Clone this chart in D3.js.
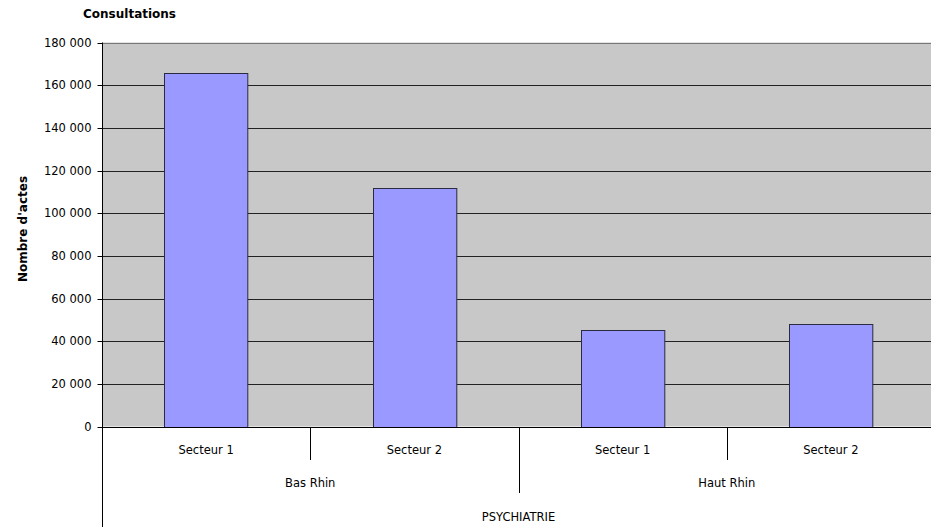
<!DOCTYPE html>
<html><head><meta charset="utf-8">
<script src="https://cdn.jsdelivr.net/npm/d3@7"></script>
<style>
body{margin:0;background:#fff;}
text{font-family:"DejaVu Sans",sans-serif;fill:#000;}
</style></head>
<body><svg id="c" width="931" height="527"></svg>
<script>
const sectors = ["Secteur 1","Secteur 2","Secteur 1","Secteur 2"];
const regions = ["Bas Rhin","Haut Rhin"];
const regionOfBar = [0,0,1,1];
const groupLabel = "PSYCHIATRIE";
const values = [165800, 111700, 45300, 48100];
const yTicks = [0,20000,40000,60000,80000,100000,120000,140000,160000,180000];
const title = "Consultations";
const yTitle = "Nombre d'actes";

const svg = d3.select("#c");
const L = 102, T = 42.5, W = 833, H = 384;
const x = d3.scaleBand().domain(d3.range(values.length)).range([L, L+W]).paddingInner(0.6).paddingOuter(0.3);
const xb = d3.scaleBand().domain(d3.range(values.length)).range([L, L+W]);
const y = d3.scaleLinear().domain([0,180000]).range([T+H, T]);
const fmt = v => d3.format(",")(v).replace(/,/g, " ");
const FS = "11.5px";

svg.append("rect").attr("x",L).attr("y",T).attr("width",W).attr("height",H).attr("fill","#c8c8c8");

// gridlines
svg.append("g").selectAll("line").data(yTicks.filter(d=>d>0)).join("line")
  .attr("x1",L).attr("x2",L+W)
  .attr("y1",d=>Math.round(y(d))+0.5).attr("y2",d=>Math.round(y(d))+0.5)
  .attr("stroke", (d,i)=> d===180000 ? "#777" : "#222").attr("stroke-width",1);

// bars
svg.append("g").selectAll("rect").data(values).join("rect")
  .attr("x",(d,i)=>Math.round(x(i))+0.5)
  .attr("y",d=>Math.round(y(d))+0.5)
  .attr("width",x.bandwidth())
  .attr("height",d=>Math.round(y(0))-Math.round(y(d)))
  .attr("fill","#9999ff").attr("stroke","#2a2a40").attr("stroke-width",1);

// y axis
const yAxis = d3.axisLeft(y).tickValues(yTicks).tickFormat(fmt).tickSize(5).tickPadding(6);
const gy = svg.append("g").attr("transform",`translate(${L+0.5},0.5)`).call(yAxis);
gy.select(".domain").remove();
gy.selectAll(".tick line").attr("stroke","#000");
gy.selectAll(".tick").attr("transform",d=>`translate(0,${Math.round(y(d))})`);
gy.selectAll("text").style("font-size",FS).style("font-family","DejaVu Sans").attr("fill","#000");
svg.append("line").attr("x1",L+0.5).attr("x2",L+0.5).attr("y1",T).attr("y2",527).attr("stroke","#000");

// x baseline
svg.append("line").attr("x1",L).attr("x2",L+W).attr("y1",Math.round(y(0))+0.5).attr("y2",Math.round(y(0))+0.5).attr("stroke","#000");

const y0 = Math.round(y(0));
// sector labels
svg.append("g").selectAll("text").data(sectors).join("text")
  .attr("x",(d,i)=>xb(i)+xb.bandwidth()/2).attr("y",y0+27)
  .attr("text-anchor","middle").style("font-size",FS).text(d=>d);
// separators between sectors within region
const sepSmall = [1,3];
svg.append("g").selectAll("line").data(sepSmall).join("line")
  .attr("x1",i=>Math.round(xb(i))+0.5).attr("x2",i=>Math.round(xb(i))+0.5)
  .attr("y1",y0).attr("y2",y0+33).attr("stroke","#000");
// region separator
svg.append("line").attr("x1",Math.round(xb(2))+0.5).attr("x2",Math.round(xb(2))+0.5)
  .attr("y1",y0).attr("y2",y0+66).attr("stroke","#000");
// region labels
svg.append("g").selectAll("text").data(regions).join("text")
  .attr("x",(d,r)=>{const idx=d3.range(values.length).filter(i=>regionOfBar[i]===r);return (xb(idx[0])+xb(idx[idx.length-1])+xb.bandwidth())/2;})
  .attr("y",y0+60).attr("text-anchor","middle").style("font-size",FS).text(d=>d);
// group label
svg.append("text").attr("x",xb(2)).attr("y",y0+94).attr("text-anchor","middle").style("font-size",FS).text(groupLabel);

// titles
svg.append("text").attr("x",83).attr("y",18).style("font-size","12px").style("font-weight","bold").text(title);
svg.append("text").attr("transform",`translate(27,229) rotate(-90)`).attr("text-anchor","middle")
  .style("font-size","12px").style("font-weight","bold").text(yTitle);
</script></body></html>
